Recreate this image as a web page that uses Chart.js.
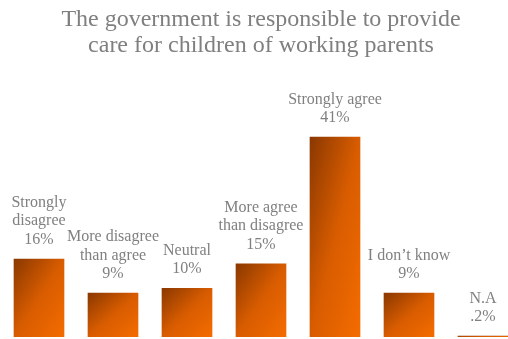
<!DOCTYPE html>
<html>
<head>
<meta charset="utf-8">
<script src="https://cdn.jsdelivr.net/npm/chart.js@4"></script>
<style>
  html, body { margin: 0; padding: 0; background: #fff; overflow: hidden; }
  #wrap { position: relative; width: 522px; height: 339px; }
</style>
</head>
<body>
<div id="wrap"><canvas id="careChart"></canvas></div>
<script>
// survey answers, one bar per answer
const answers = [
  ['Strongly', 'disagree'],
  ['More disagree', 'than agree'],
  ['Neutral'],
  ['More agree', 'than disagree'],
  ['Strongly agree'],
  ['I don\u2019t know'],
  ['N.A']
];
const shares = [16, 9, 10, 15, 41, 9, 0.2];
const shareLabels = ['16%', '9%', '10%', '15%', '41%', '9%', '.2%'];

const titleLines = [
  'The government is responsible to provide',
  'care for children of working parents'
];

const serif = "'Liberation Serif', 'Times New Roman', serif";

// diagonal fill: dark at top-left, bright orange at bottom-right
function barFill(c) {
  const chart = c.chart;
  if (!chart.chartArea) return '#d85c00';
  const xs = chart.scales.x, ys = chart.scales.y;
  const w = 50;
  const x0 = xs.getPixelForValue(c.dataIndex) - w / 2;
  const y0 = ys.getPixelForValue(c.raw);
  const h = Math.max(ys.getPixelForValue(0) - y0, 1);
  const k = 2 * w * h / (w * w + h * h);
  const g = chart.ctx.createLinearGradient(x0, y0, x0 + h * k, y0 + w * k);
  g.addColorStop(0, '#8a3800');
  g.addColorStop(0.5, '#d85c00');
  g.addColorStop(1, '#f46c00');
  return g;
}

// answer text and share stacked above each bar
const barLabels = {
  id: 'barLabels',
  afterDatasetsDraw(chart) {
    const ctx = chart.ctx;
    ctx.save();
    ctx.font = '16px ' + serif;
    ctx.fillStyle = '#808080';
    ctx.textAlign = 'center';
    ctx.textBaseline = 'alphabetic';
    chart.getDatasetMeta(0).data.forEach((bar, i) => {
      const lines = answers[i].concat([shareLabels[i]]);
      let y = bar.y - 15;
      for (let j = lines.length - 1; j >= 0; j--) {
        ctx.fillText(lines[j], bar.x, y);
        y -= 18.5;
      }
    });
    ctx.restore();
  }
};

new Chart(document.getElementById('careChart'), {
  type: 'bar',
  data: {
    labels: answers,
    datasets: [{
      data: shares,
      backgroundColor: barFill,
      barThickness: 50,
      minBarLength: 1
    }]
  },
  options: {
    responsive: true,
    maintainAspectRatio: false,
    animation: false,
    layout: { padding: { left: 2, right: 2, top: 0, bottom: 2 } },
    plugins: {
      legend: { display: false },
      tooltip: { enabled: false },
      title: {
        display: true,
        text: titleLines,
        color: '#7f7f7f',
        font: { family: serif, size: 24, weight: 'normal', lineHeight: 1.08 },
        padding: { top: 7, bottom: 10 }
      }
    },
    scales: {
      x: { display: false, grid: { display: false } },
      y: { display: false, min: 0, max: 55 }
    }
  },
  plugins: [barLabels]
});
</script>
</body>
</html>
